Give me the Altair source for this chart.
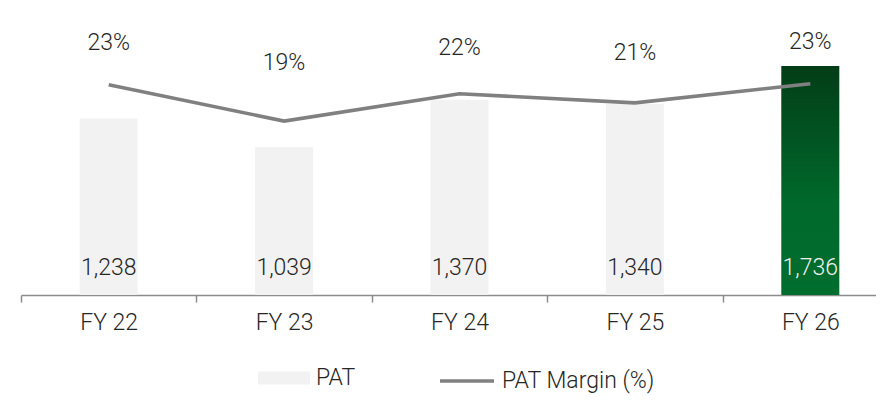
import altair as alt
import pandas as pd

# ---- data ----
years = ["FY 22", "FY 23", "FY 24", "FY 25", "FY 26"]
pat_labels = ["1,238", "1,039", "1,370", "1,340", "1,736"]
pat_bar = [1238, 1039, 1370, 1340, 1607]      # bar heights as drawn
margin = [23.1, 19.1, 22.1, 21.1, 23.2]       # PAT margin (%)
margin_labels = ["23%", "19%", "22%", "21%", "23%"]

df = pd.DataFrame({
    "idx": list(range(len(years))),
    "year": years,
    "pat": pat_bar,
    "pat_label": pat_labels,
    "margin": margin,
    "margin_label": margin_labels,
    "s_bar": "PAT",
    "s_line": "PAT Margin (%)",
})

FONT = "Roboto"
TXT = "#262626"
FS = 23
W = 855
STEP = 175.4

year_expr = "[" + ",".join("'%s'" % y for y in years) + "][round(datum.value + 0.5)]"

x_scale = alt.Scale(domain=[-0.5, -0.5 + W / STEP], nice=False, zero=False, padding=0)

x_enc = alt.X(
    "idx:Q",
    scale=x_scale,
    axis=alt.Axis(
        title=None, values=[i - 0.5 for i in range(len(years))],
        labelExpr=year_expr, labelOffset=STEP / 2,
        labelFlush=False, labelOverlap=False, labelBound=False,
        domainColor="#8c8c8c", domainWidth=1.5,
        tickColor="#8c8c8c", tickWidth=1.5, tickSize=7,
        labelFont=FONT, labelFontSize=FS, labelFontWeight=300,
        labelColor=TXT, labelPadding=9, grid=False,
    ),
)
x_plain = alt.X("idx:Q", scale=x_scale)

bar_y = alt.Scale(domain=[0, 2000])
line_y = alt.Scale(domain=[0, 31.3])
lab_y = alt.Scale(domain=[-27.4, 29.6])

leg_common = dict(
    title=None, orient="none", direction="horizontal",
    labelFont=FONT, labelFontSize=FS, labelFontWeight=300, labelColor=TXT,
    labelOffset=6,
)

base = alt.Chart(df)

bars = base.mark_bar(width=58).encode(
    x=x_enc,
    y=alt.Y("pat:Q", scale=bar_y, axis=None),
    fill=alt.Fill(
        "s_bar:N",
        scale=alt.Scale(domain=["PAT"], range=["#f2f2f2"]),
        legend=alt.Legend(
            legendX=237, legendY=342,
            symbolType="M-1,-0.25H1V0.25H-1Z", symbolSize=2704,
            symbolStrokeWidth=0, symbolOpacity=1,
            **leg_common,
        ),
    ),
)

green = base.transform_filter(alt.datum.year == "FY 26").mark_bar(
    width=58,
    color={
        "gradient": "linear", "x1": 0, "y1": 0, "x2": 0, "y2": 1,
        "stops": [
            {"offset": 0, "color": "#033d17"},
            {"offset": 0.6, "color": "#00692b"},
            {"offset": 1, "color": "#006e2e"},
        ],
    },
).encode(
    x=x_plain,
    y=alt.Y("pat:Q", scale=bar_y, axis=None),
)

bar_text = base.mark_text(
    font=FONT, fontSize=FS, fontWeight=300, baseline="middle", dy=-27
).encode(
    x=x_plain,
    y=alt.datum(0, scale=bar_y, axis=None),
    text="pat_label:N",
    color=alt.condition(alt.datum.year == "FY 26", alt.value("#f0f0f0"), alt.value(TXT)),
)

line = base.mark_line(strokeWidth=3.6, strokeCap="butt").encode(
    x=x_plain,
    y=alt.Y("margin:Q", scale=line_y, axis=None),
    stroke=alt.Stroke(
        "s_line:N",
        scale=alt.Scale(domain=["PAT Margin (%)"], range=["#808080"]),
        legend=alt.Legend(
            legendX=417, legendY=342,
            symbolType="stroke", symbolSize=2916, symbolStrokeWidth=3.6,
            symbolOpacity=1,
            **leg_common,
        ),
    ),
)

line_text = base.mark_text(
    font=FONT, fontSize=FS, fontWeight=300, baseline="middle", color=TXT
).encode(
    x=x_plain,
    y=alt.Y("margin:Q", scale=lab_y, axis=None),
    text="margin_label:N",
)

chart = alt.layer(bars, green, bar_text, line, line_text).resolve_scale(
    y="independent"
).properties(
    width=W,
    height=285,
    autosize=alt.AutoSizeParams(type="none"),
    padding={"left": 13, "top": 2, "right": 0, "bottom": 100},
    background="white",
).configure_view(stroke=None)

chart.save("out.html", embed_options={"renderer": "svg", "actions": False})
